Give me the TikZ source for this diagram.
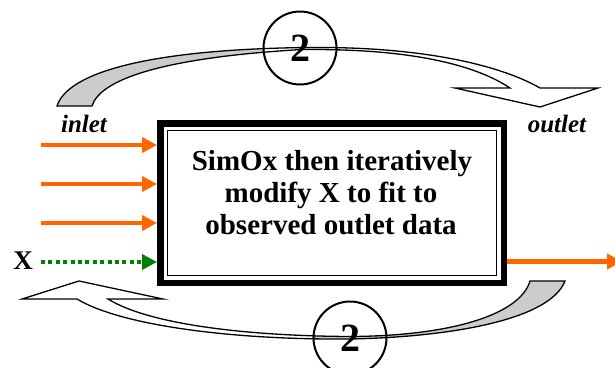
\documentclass[tikz,border=0pt]{standalone}
\usepackage{fontspec}
\setmainfont{Liberation Serif}
\usetikzlibrary{arrows.meta}
\definecolor{arrorange}{RGB}{255,102,0}
\definecolor{arrgreen}{RGB}{0,128,0}
\definecolor{ribgray}{RGB}{204,204,204}
\tikzset{
  inarrow/.style={draw=arrorange, line width=4.5pt, -{Triangle[length=15pt,width=15pt]}},
  xarrow/.style={draw=arrgreen, line width=4.5pt, dash pattern=on 4pt off 3.4pt, -{Triangle[length=15pt,width=15pt]}},
  ribbon/.style={draw=black, line width=1.3pt, line join=miter},
  numcircle/.style={circle, draw, line width=2pt, minimum size=73pt, inner sep=0pt, font=\fontsize{40}{40}\selectfont\bfseries},
  lbl/.style={font=\fontsize{25}{25}\selectfont\bfseries\itshape, inner sep=0pt, anchor=base},
  boxtext/.style={font=\fontsize{29}{32}\selectfont\bfseries, inner sep=0pt, anchor=base},
  bigbox/.style={draw, line width=6.5pt, minimum width=343.5pt, minimum height=159.5pt, inner sep=0pt},
}
\def\toprib{(57,106) -- (92,106) .. controls (100,80) and (160,58) .. (300,49.6) .. controls (420,48) and (480,68) .. (510,88) -- (455,88) -- (540,107) -- (598,88) -- (540,88) .. controls (500,65) and (420,45.5) .. (300,47.6) .. controls (150,50) and (68,72) .. (57,106) -- cycle}
\def\botrib{(530,281) -- (565,281) .. controls (550,320) and (450,337) .. (350,339) .. controls (230,340) and (120,325) .. (77,299) -- (22,299) -- (79,281) -- (163,299) -- (108,299) .. controls (150,325) and (250,336) .. (350,336.5) .. controls (450,336) and (520,315) .. (530,281) -- cycle}
\begin{document}
\begin{tikzpicture}[x=1pt, y=-1pt]
  \clip (0,0) rectangle (615,367);
  \fill[white] (0,0) rectangle (615,367);

  % main box
  \node[bigbox] (box) at (332,203) {};
  \draw[line width=1.5pt] ([shift={(10.5pt,-10.5pt)}]box.north west) rectangle ([shift={(-10.5pt,10.5pt)}]box.south east);
  \node[boxtext] (t1) at (332,170) {SimOx then iteratively};
  \node[boxtext] (t2) at (331,202) {modify X to fit to};
  \node[boxtext] (t3) at (331,234) {observed outlet data};

  % labels
  \node[lbl] (inl) at (84,132) {inlet};
  \node[lbl] (outl) at (557,132) {outlet};
  \node[font=\fontsize{27}{27}\selectfont\bfseries, inner sep=0pt] (xl) at (23,261) {X};

  % input arrows
  \coordinate (a1) at (41,145);
  \coordinate (a2) at (41,184);
  \coordinate (a3) at (41,223);
  \coordinate (ax) at (41,262);
  \coordinate (ao) at (622,261.5);
  \draw[inarrow] (a1) -- (a1 -| box.west);
  \draw[inarrow] (a2) -- (a2 -| box.west);
  \draw[inarrow] (a3) -- (a3 -| box.west);
  \draw[xarrow] (ax) -- (ax -| box.west);
  \draw[inarrow] (ao -| box.east) -- (ao);

  % top ribbon arrow
  \fill[white] \toprib;
  \begin{scope}
    \clip (0,0) rectangle (265,140);
    \fill[ribgray] \toprib;
  \end{scope}
  \draw[ribbon] \toprib;

  % bottom ribbon arrow
  \fill[white] \botrib;
  \begin{scope}
    \clip (312,270) rectangle (615,367);
    \fill[ribgray] \botrib;
  \end{scope}
  \draw[ribbon] \botrib;

  % numbered circles
  \node[numcircle] (c1) at (300,48) {2};
  \node[numcircle] (c2) at (350,338) {2};
\end{tikzpicture}
\end{document}
